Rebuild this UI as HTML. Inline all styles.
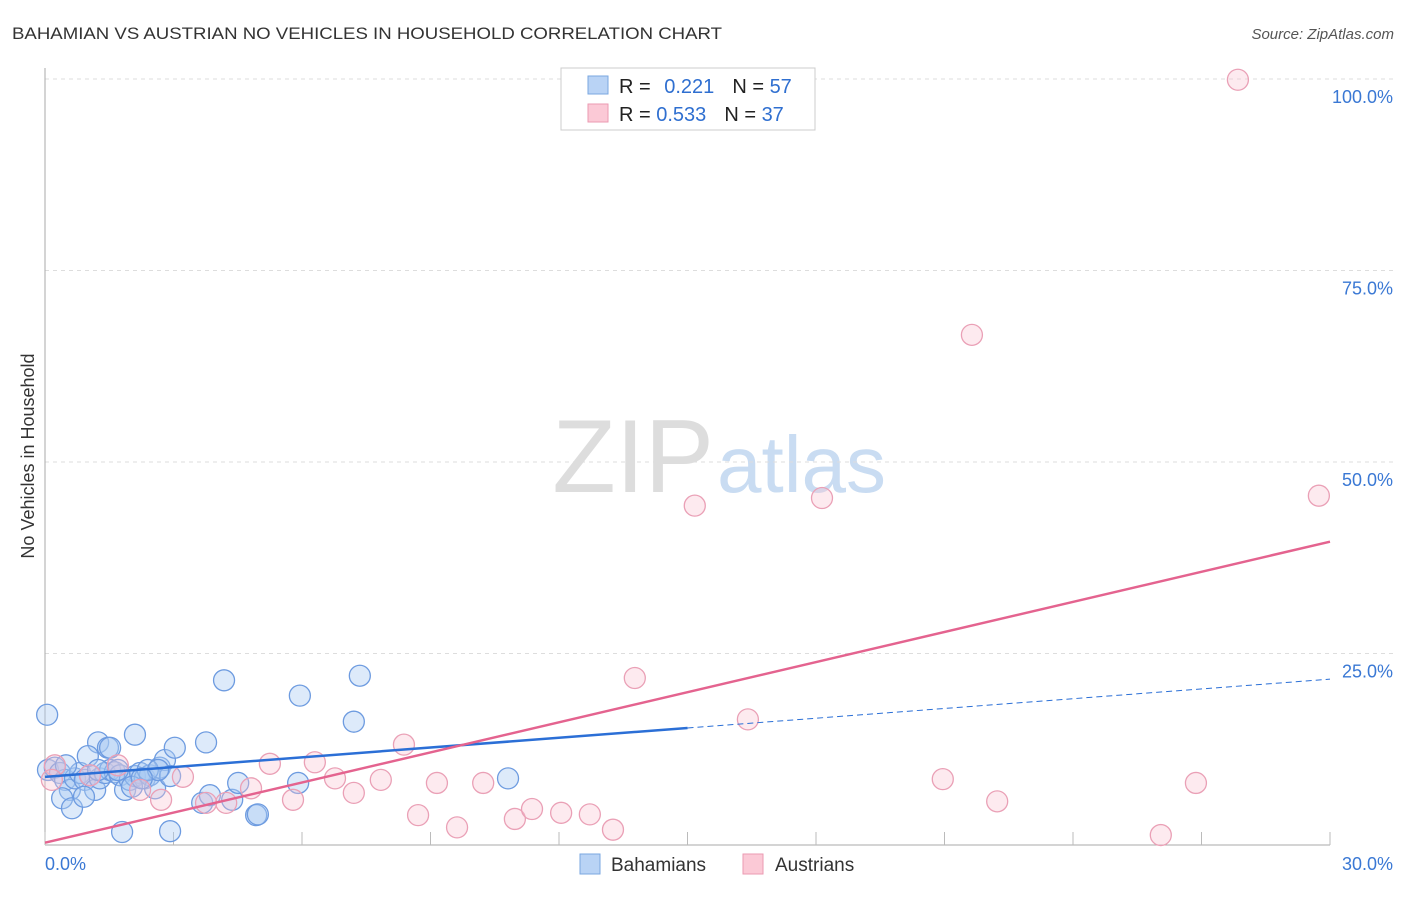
<!DOCTYPE html>
<html><head><meta charset="utf-8"><style>
body{margin:0;background:#fff;font-family:"Liberation Sans",sans-serif}
svg text{font-family:"Liberation Sans",sans-serif}
</style></head><body>
<svg id="c" width="1406" height="892" xmlns="http://www.w3.org/2000/svg">
<text x="12" y="39" font-size="17" fill="#333" textLength="710" lengthAdjust="spacingAndGlyphs">BAHAMIAN VS AUSTRIAN NO VEHICLES IN HOUSEHOLD CORRELATION CHART</text>
<text x="1394" y="39" font-size="15" fill="#555" font-style="italic" text-anchor="end">Source: ZipAtlas.com</text>
<text x="714" y="492" font-size="104" font-family="Liberation Serif" fill="#ddd" text-anchor="end">ZIP</text>
<text x="717" y="492" font-size="80" fill="#c9dcf2">atlas</text>
<text transform="translate(34,456) rotate(-90)" font-size="18" fill="#333" text-anchor="middle">No Vehicles in Household</text>
<g id="grid"></g><g id="marks"></g>
<g>
<rect x="561" y="68" width="254" height="62" fill="#fff" stroke="#ccc"/>
<rect x="588" y="76" width="20" height="18" fill="#b9d3f5" stroke="#7aa7e0"/>
<rect x="588" y="104" width="20" height="18" fill="#fbc9d6" stroke="#eb9ab2"/>
<text x="619" y="93" font-size="20" fill="#222">R = <tspan fill="#2f6fd0" dx="8">0.221</tspan><tspan dx="18" fill="#222">N = </tspan><tspan fill="#2f6fd0">57</tspan></text>
<text x="619" y="121" font-size="20" fill="#222">R = <tspan fill="#2f6fd0">0.533</tspan><tspan dx="18" fill="#222">N = </tspan><tspan fill="#2f6fd0">37</tspan></text>
</g>
<g>
<rect x="580" y="854" width="20" height="20" fill="#b9d3f5" stroke="#7aa7e0"/>
<text x="611" y="871" font-size="19" fill="#333">Bahamians</text>
<rect x="743" y="854" width="20" height="20" fill="#fbc9d6" stroke="#eb9ab2"/>
<text x="775" y="871" font-size="19" fill="#333">Austrians</text>
</g>
</svg>
<script>
const blueX=[0.05,0.07,0.23,0.35,0.47,0.58,0.70,0.82,0.93,1.05,1.17,1.28,1.40,1.52,1.63,1.75,1.87,1.98,2.10,2.22,2.33,2.45,2.57,2.68,2.80,3.03,0.40,0.63,0.91,1.24,1.47,1.00,1.52,2.10,1.70,1.24,2.40,2.92,3.76,4.18,5.95,7.35,7.21,1.80,2.92,3.67,3.85,4.37,4.51,4.93,4.97,5.91,10.81,2.03,2.64,2.26,0.49];
const blueY=[17.0,9.8,10.1,9.4,8.5,7.2,8.7,9.4,8.5,9.1,7.2,8.7,9.4,9.8,9.5,9.1,7.2,8.5,9.0,9.4,8.7,9.1,7.4,10.1,11.1,12.7,6.1,4.8,6.3,13.4,12.7,11.6,12.7,14.4,9.8,9.8,9.8,9.0,13.4,21.5,19.5,22.1,16.1,1.7,1.8,5.5,6.5,5.9,8.1,3.9,4.0,8.1,8.7,7.6,9.8,8.7,10.4];
const pinkX=[27.85,21.64,18.14,15.17,29.74,13.77,16.41,8.38,5.25,6.30,6.77,7.21,7.84,9.15,10.23,5.79,4.23,3.76,2.71,2.22,3.22,4.81,8.71,9.62,10.97,11.37,12.05,12.72,13.26,20.96,22.23,26.05,26.87,1.70,0.23,0.16,1.05];
const pinkY=[99.9,66.6,45.3,44.3,45.6,21.8,16.4,13.1,10.6,10.8,8.7,6.8,8.5,8.1,8.1,5.9,5.5,5.5,5.9,7.2,8.9,7.4,3.9,2.3,3.4,4.7,4.2,4.0,2.0,8.6,5.7,1.3,8.1,10.4,10.4,8.5,9.1];
const blueTrend=[8.9,0.425]; // intercept, slope
const pinkTrend=[0.3,1.31];
const yTicks=[25,50,75,100];
const yTickLabels=["25.0%","50.0%","75.0%","100.0%"];
const xTicks=[0,3,6,9,12,15,18,21,24,27,30];
const NS="http://www.w3.org/2000/svg";
const X=v=>45+v/30*1285, Y=v=>845-v/100*766;
function mk(p,t,a){const e=document.createElementNS(NS,t);for(const k in a)e.setAttribute(k,a[k]);p.appendChild(e);return e;}
const g=document.getElementById('grid'), m=document.getElementById('marks');
yTicks.forEach((v,i)=>{
 const l=mk(g,'line',{x1:45,x2:1395,y1:Y(v),y2:Y(v),stroke:'#ddd','stroke-dasharray':'4,4'});
 
 
 const t=mk(g,'text',{x:1393,y:Y(v)+24,'font-size':18,fill:'#3a78d4','text-anchor':'end'});t.textContent=yTickLabels[i];
 
 
});
mk(g,'line',{x1:45,x2:45,y1:68,y2:845,stroke:'#aaa'});
mk(g,'line',{x1:45,x2:1330,y1:845,y2:845,stroke:'#aaa'});
xTicks.forEach(v=>{const l=mk(g,'line',{x1:X(v),x2:X(v),y1:832,y2:845,stroke:'#bbb'});
 
 });
let t=mk(g,'text',{x:45,y:870,'font-size':18,fill:'#3a78d4'});t.textContent='0.0%';


t=mk(g,'text',{x:1393,y:870,'font-size':18,fill:'#3a78d4','text-anchor':'end'});t.textContent='30.0%';


blueX.forEach((v,i)=>{const c=mk(m,'circle',{cx:X(v),cy:Y(blueY[i]),r:10.5,fill:'rgba(170,202,242,0.4)',stroke:'#6d9be0','stroke-width':1.3});
 
 });
pinkX.forEach((v,i)=>{const c=mk(m,'circle',{cx:X(v),cy:Y(pinkY[i]),r:10.5,fill:'rgba(248,195,210,0.35)',stroke:'#eaa0b6','stroke-width':1.3});
 
 });
let l=mk(m,'line',{x1:X(0),y1:Y(blueTrend[0]),x2:X(15),y2:Y(blueTrend[0]+15*blueTrend[1]),stroke:'#2b6fd6','stroke-width':2.5});


l=mk(m,'line',{x1:X(15),y1:Y(blueTrend[0]+15*blueTrend[1]),x2:X(30),y2:Y(blueTrend[0]+30*blueTrend[1]),stroke:'#2b6fd6','stroke-width':1,'stroke-dasharray':'6,4'});


l=mk(m,'line',{x1:X(0),y1:Y(pinkTrend[0]),x2:X(30),y2:Y(pinkTrend[0]+30*pinkTrend[1]),stroke:'#e4638f','stroke-width':2.5});


</script>
</body></html>
